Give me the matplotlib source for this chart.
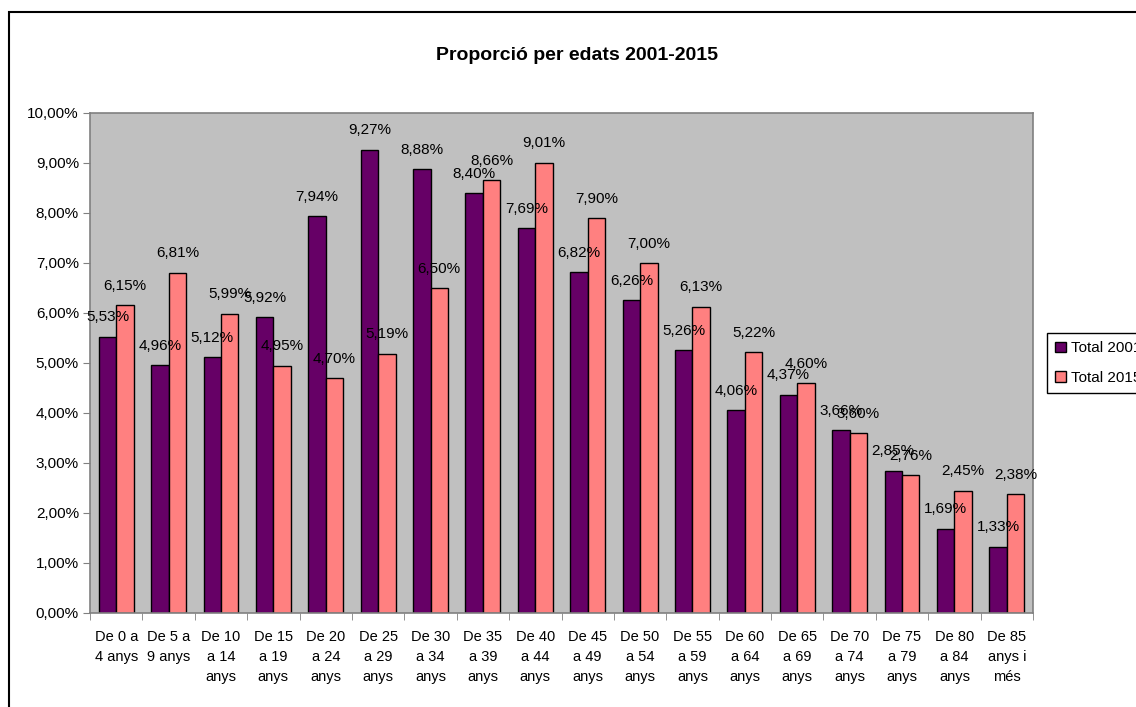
import matplotlib.pyplot as plt
import numpy as np
from matplotlib.patches import Rectangle
from matplotlib.ticker import FuncFormatter

plt.rcParams['font.family'] = ['Liberation Sans', 'DejaVu Sans']

categories = ["De 0 a\n4 anys", "De 5 a\n9 anys", "De 10\na 14\nanys", "De 15\na 19\nanys",
              "De 20\na 24\nanys", "De 25\na 29\nanys", "De 30\na 34\nanys", "De 35\na 39\nanys",
              "De 40\na 44\nanys", "De 45\na 49\nanys", "De 50\na 54\nanys", "De 55\na 59\nanys",
              "De 60\na 64\nanys", "De 65\na 69\nanys", "De 70\na 74\nanys", "De 75\na 79\nanys",
              "De 80\na 84\nanys", "De 85\nanys i\nmés"]
total_2001 = [5.53, 4.96, 5.12, 5.92, 7.94, 9.27, 8.88, 8.40, 7.69, 6.82, 6.26, 5.26,
              4.06, 4.37, 3.66, 2.85, 1.69, 1.33]
total_2015 = [6.15, 6.81, 5.99, 4.95, 4.70, 5.19, 6.50, 8.66, 9.01, 7.90, 7.00, 6.13,
              5.22, 4.60, 3.60, 2.76, 2.45, 2.38]

fig = plt.figure(figsize=(11.36, 7.07), dpi=100)
ax = fig.add_axes([90/1136, 94/707, 943/1136, 500/707])
ax.set_facecolor('#C0C0C0')

x = np.arange(len(categories))
w = 1/3
b1 = ax.bar(x - w/2, np.array(total_2001) / 100, w, color='#660066', edgecolor='black',
            linewidth=1, label='Total 2001')
b2 = ax.bar(x + w/2, np.array(total_2015) / 100, w, color='#FF8080', edgecolor='black',
            linewidth=1, label='Total 2015')

for bars, vals in ((b1, total_2001), (b2, total_2015)):
    for rect, v in zip(bars, vals):
        ax.annotate(f"{v:.2f}%".replace('.', ','),
                    (rect.get_x() + rect.get_width()/2, rect.get_height()),
                    xytext=(0, 14), textcoords='offset points',
                    ha='center', va='center', fontsize=11, annotation_clip=False)

ax.set_xlim(-0.5, len(categories) - 0.5)
ax.set_ylim(0, 0.10)
ax.set_yticks(np.arange(0, 0.1001, 0.01))
ax.yaxis.set_major_formatter(FuncFormatter(lambda v, p: f"{v*100:.2f}%".replace('.', ',')))
ax.tick_params(axis='y', labelsize=11, length=5, color='#808080', pad=3)

ax.set_xticks(x)
ax.set_xticklabels(categories, fontsize=10.5, linespacing=1.55)
ax.set_xticks(np.arange(-0.5, len(categories)), minor=True)
ax.tick_params(axis='x', which='major', length=0, pad=12)
ax.tick_params(axis='x', which='minor', length=5, color='#808080')

for s in ax.spines.values():
    s.set_color('#808080')
    s.set_linewidth(1.2)

fig.text(577/1136, 1 - 55/707, "Proporció per edats 2001-2015", ha='center', va='center',
         fontsize=14, fontweight='bold')

fig.legend(loc='upper left', bbox_to_anchor=(1047/1136, 1 - 333/707), fontsize=11,
           frameon=True, fancybox=False, edgecolor='black', framealpha=1,
           handlelength=0.7, handleheight=0.7, handletextpad=0.3, borderpad=0.55,
           labelspacing=1.0, borderaxespad=0)

fig.patches.append(Rectangle((9/1136, -0.1), 2, 1 - 12/707 + 0.1, transform=fig.transFigure,
                             fill=False, edgecolor='black', linewidth=1.5))

fig.savefig('out.png', dpi=100)
